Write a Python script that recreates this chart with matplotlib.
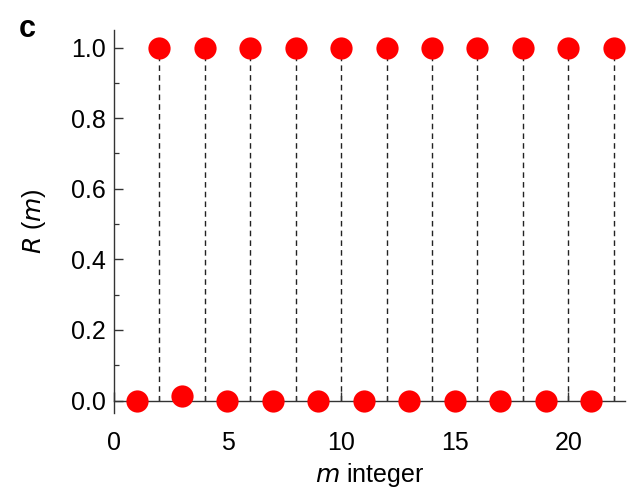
import matplotlib
matplotlib.use("Agg")
import matplotlib.pyplot as plt
from matplotlib.ticker import MultipleLocator

# m values and R(m)
m_values = list(range(1, 23))
r_values = [0.0, 1.0, 0.012, 1.0, 0.0, 1.0, 0.0, 1.0, 0.0, 1.0, 0.0,
            1.0, 0.0, 1.0, 0.0, 1.0, 0.0, 1.0, 0.0, 1.0, 0.0, 1.0]
x_ticks = [0, 5, 10, 15, 20]
y_ticks = [0.0, 0.2, 0.4, 0.6, 0.8, 1.0]

plt.rcParams["font.family"] = ["Liberation Sans", "DejaVu Sans"]

fig = plt.figure(figsize=(6.29, 4.91), dpi=100)
ax = fig.add_axes([0.181, 0.159, 0.813, 0.780])

# dashed guides for the R=1 points
for m, r in zip(m_values, r_values):
    if r > 0.5:
        ax.plot([m, m], [0, r], ls=(0, (4, 3)), color="#222222", lw=1.0, zorder=1)

ax.plot(m_values, r_values, "o", color="#ff0000", markersize=16,
        markeredgewidth=0, zorder=3, clip_on=False)

ax.set_xlim(0, 22.5)
ax.set_ylim(-0.035, 1.05)
ax.set_xticks(x_ticks)
ax.set_yticks(y_ticks)
ax.set_yticklabels([f"{v:.1f}" for v in y_ticks])
ax.xaxis.set_minor_locator(MultipleLocator(1))
ax.yaxis.set_minor_locator(MultipleLocator(0.1))

ax.spines["top"].set_visible(False)
ax.spines["right"].set_visible(False)
ax.spines["bottom"].set_position(("data", 0))
for s in ("left", "bottom"):
    ax.spines[s].set_color("#333333")
    ax.spines[s].set_linewidth(1.0)
    ax.spines[s].set_zorder(2)

ax.tick_params(axis="both", which="major", direction="in", length=6.5,
               width=1.0, color="#333333", labelsize=18, pad=6)
ax.tick_params(axis="both", which="minor", direction="in", length=3.5,
               width=0.9, color="#333333")
ax.tick_params(axis="x", which="major", pad=22)

ax.set_xlabel(r"$\mathit{m}$ integer", fontsize=18)
ax.xaxis.set_label_coords(0.5, -0.125)
ax.set_ylabel(r"$\mathit{R}$ ($\mathit{m}$)", fontsize=18, labelpad=16)

fig.text(0.03, 0.925, "c", fontsize=22, fontweight="bold")

fig.savefig("out.png", dpi=100)
